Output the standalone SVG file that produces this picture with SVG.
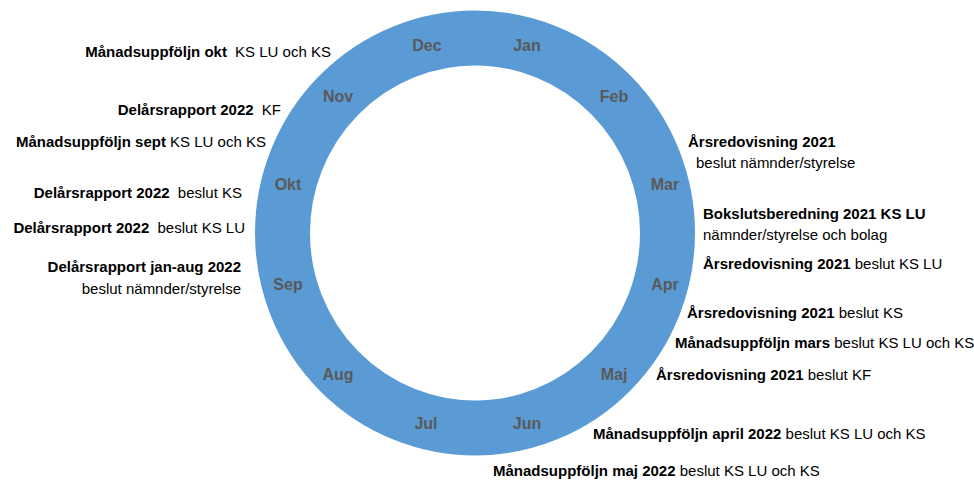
<svg xmlns="http://www.w3.org/2000/svg" width="974" height="484" viewBox="0 0 974 484">
<style>
.ring{fill:none;stroke:#5B9BD5;stroke-width:55}
.m{font-family:"Liberation Sans",Arial,sans-serif;font-size:16px;font-weight:bold;fill:#595959;text-anchor:middle}
.t{font-family:"Liberation Sans",Arial,sans-serif;font-size:15px;fill:#000}
.l{text-anchor:end}
.b{font-weight:bold}
</style>
<rect width="974" height="484" fill="#fff"/>
<g id="ring"><ellipse class="ring" cx="475" cy="233" rx="192.5" ry="195"/></g>
<g id="months">
<text class="m" x="427" y="51">Dec</text>
<text class="m" x="527" y="51">Jan</text>
<text class="m" x="338" y="102">Nov</text>
<text class="m" x="614" y="102">Feb</text>
<text class="m" x="288" y="190">Okt</text>
<text class="m" x="665" y="190">Mar</text>
<text class="m" x="288" y="290">Sep</text>
<text class="m" x="665" y="290">Apr</text>
<text class="m" x="338" y="380">Aug</text>
<text class="m" x="614" y="380">Maj</text>
<text class="m" x="426" y="429">Jul</text>
<text class="m" x="527" y="429">Jun</text>
</g>
<g id="n-okt"><text class="t l" x="331" y="57"><tspan class="b">Månadsuppföljn okt</tspan><tspan dx="4"> KS LU och KS</tspan></text></g>
<g id="n-delar-kf"><text class="t l" x="281" y="115"><tspan class="b">Delårsrapport 2022</tspan><tspan dx="4"> KF</tspan></text></g>
<g id="n-sept"><text class="t l" x="266" y="147"><tspan class="b">Månadsuppföljn sept</tspan> KS LU och KS</text></g>
<g id="n-delar-ks"><text class="t l" x="242" y="198"><tspan class="b">Delårsrapport 2022</tspan><tspan dx="4"> beslut KS</tspan></text></g>
<g id="n-delar-kslu"><text class="t l" x="245" y="233"><tspan class="b">Delårsrapport 2022</tspan><tspan dx="4"> beslut KS LU</tspan></text></g>
<g id="n-delar-namnder"><text class="t l b" x="241" y="272">Delårsrapport jan-aug 2022</text><text class="t l" x="241" y="294">beslut nämnder/styrelse</text></g>
<g id="n-ars-namnder"><text class="t b" x="688" y="147">Årsredovisning 2021</text><text class="t" x="696" y="168">beslut nämnder/styrelse</text></g>
<g id="n-bokslut"><text class="t b" x="703" y="219">Bokslutsberedning 2021 KS LU</text><text class="t" x="703" y="240">nämnder/styrelse och bolag</text></g>
<g id="n-ars-kslu"><text class="t" x="703" y="269"><tspan class="b">Årsredovisning 2021</tspan> beslut KS LU</text></g>
<g id="n-ars-ks"><text class="t" x="687" y="318"><tspan class="b">Årsredovisning 2021</tspan> beslut KS</text></g>
<g id="n-mars"><text class="t" x="675" y="348"><tspan class="b">Månadsuppföljn mars</tspan> beslut KS LU och KS</text></g>
<g id="n-ars-kf"><text class="t" x="656" y="380"><tspan class="b">Årsredovisning 2021</tspan> beslut KF</text></g>
<g id="n-april"><text class="t" x="593" y="439"><tspan class="b">Månadsuppföljn april 2022</tspan> beslut KS LU och KS</text></g>
<g id="n-maj"><text class="t" x="493" y="476"><tspan class="b">Månadsuppföljn maj 2022</tspan> beslut KS LU och KS</text></g>
</svg>
